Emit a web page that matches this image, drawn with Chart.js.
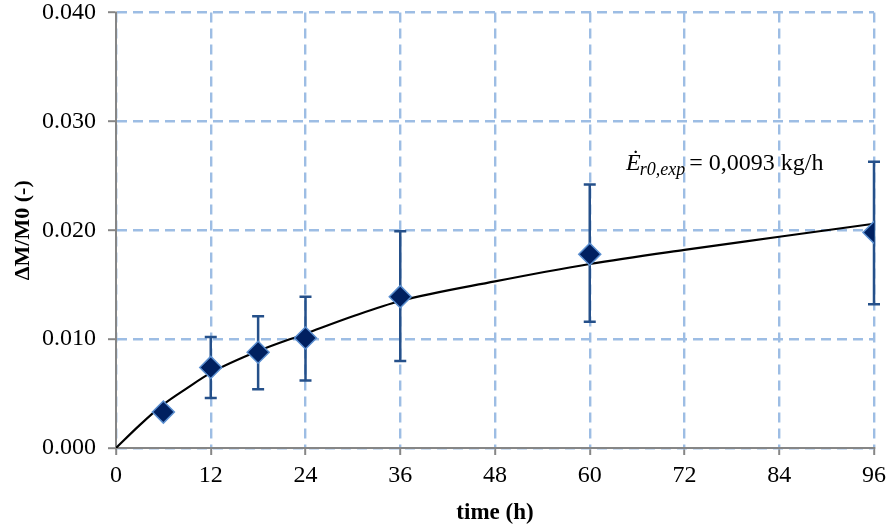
<!DOCTYPE html>
<html>
<head>
<meta charset="utf-8">
<script src="https://cdn.jsdelivr.net/npm/chart.js@4"></script>
<style>
  html, body { margin: 0; padding: 0; background: #fff; }
  #wrap { width: 893px; height: 529px; position: relative; }
</style>
</head>
<body>
<div id="wrap"><canvas id="chart"></canvas></div>
<script>
// measured points (time in h, ΔM/M0)
const hours = [6, 12, 18, 24, 36, 60, 96];
const massGain = [0.0033, 0.0074, 0.0088, 0.0101, 0.0139, 0.0178, 0.0198];
const errHigh = [null, 0.0102, 0.0121, 0.0139, 0.0199, 0.0242, 0.0263];
const errLow = [null, 0.0046, 0.0054, 0.0062, 0.0080, 0.0116, 0.0132];

// fitted curve
const fitHours = [0, 3, 6, 9, 12, 18, 24, 30, 36, 48, 60, 72, 84, 96];
const fitValues = [0, 0.0021, 0.0040, 0.0055, 0.0069, 0.0089, 0.0105, 0.0121, 0.0135, 0.0153, 0.0169, 0.0182, 0.0194, 0.0206];

const xTicks = [0, 12, 24, 36, 48, 60, 72, 84, 96];
const yTicks = [0, 0.01, 0.02, 0.03, 0.04];

const labelFont = 'Liberation Serif';
const gridBlue = '#9dbde4';
const axisGrey = '#868686';

const errorBars = {
    id: 'errorBars',
    beforeDatasetDraw(chart, args) {
        if (args.index !== 0) return;
        const ctx = chart.ctx;
        const xs = chart.scales.x, ys = chart.scales.y;
        ctx.save();
        ctx.strokeStyle = '#25508a';
        ctx.lineWidth = 2.5;
        hours.forEach((h, i) => {
            if (errHigh[i] == null) return;
            const px = xs.getPixelForValue(h);
            const top = ys.getPixelForValue(errHigh[i]);
            const bot = ys.getPixelForValue(errLow[i]);
            ctx.beginPath();
            ctx.moveTo(px, top); ctx.lineTo(px, bot);
            ctx.moveTo(px - 6, top); ctx.lineTo(px + 6, top);
            ctx.moveTo(px - 6, bot); ctx.lineTo(px + 6, bot);
            ctx.stroke();
        });
        ctx.restore();
    }
};

// solid axis lines on top of the dashed grid
const solidAxes = {
    id: 'solidAxes',
    beforeDatasetsDraw(chart) {
        const ctx = chart.ctx, a = chart.chartArea;
        ctx.save();
        ctx.strokeStyle = axisGrey;
        ctx.lineWidth = 2;
        ctx.setLineDash([]);
        ctx.beginPath();
        ctx.moveTo(a.left, a.top - 1);
        ctx.lineTo(a.left, a.bottom);
        ctx.lineTo(a.right + 1, a.bottom);
        ctx.stroke();
        ctx.restore();
    }
};

const rateLabel = {
    id: 'rateLabel',
    afterDraw(chart) {
        const ctx = chart.ctx;
        const eqX = chart.scales.x.getPixelForValue(72.6);
        const y = chart.scales.y.getPixelForValue(0.0255);
        ctx.save();
        ctx.fillStyle = '#000';
        ctx.textBaseline = 'alphabetic';
        ctx.textAlign = 'left';
        ctx.font = '24px ' + labelFont;
        ctx.fillText('= 0,0093 kg/h', eqX, y);
        ctx.font = 'italic 18px ' + labelFont;
        const subW = ctx.measureText('r0,exp').width;
        const subX = eqX - 4 - subW;
        ctx.fillText('r0,exp', subX, y + 5);
        ctx.font = 'italic 24px ' + labelFont;
        const eW = ctx.measureText('Ė').width;
        ctx.fillText('Ė', subX - eW + 1, y);
        ctx.restore();
    }
};

new Chart(document.getElementById('chart'), {
    type: 'scatter',
    data: {
        datasets: [
            {
                label: 'measured',
                data: hours.map((h, i) => ({ x: h, y: massGain[i] })),
                pointStyle: 'rectRot',
                pointRadius: 11,
                pointHoverRadius: 11,
                backgroundColor: '#002060',
                borderColor: '#5b8fd0',
                borderWidth: 1.5
            },
            {
                label: 'fit',
                data: fitHours.map((h, i) => ({ x: h, y: fitValues[i] })),
                showLine: true,
                cubicInterpolationMode: 'monotone',
                pointRadius: 0,
                borderColor: '#000',
                borderWidth: 2.2
            }
        ]
    },
    options: {
        responsive: true,
        maintainAspectRatio: false,
        animation: false,
        layout: { padding: { top: 12, right: 19, left: 0, bottom: 0 } },
        plugins: { legend: { display: false }, tooltip: { enabled: false } },
        scales: {
            x: {
                type: 'linear',
                min: 0, max: 96,
                afterBuildTicks: axis => { axis.ticks = xTicks.map(v => ({ value: v })); },
                afterFit: axis => { axis.height = 81; },
                grid: {
                    color: gridBlue, lineWidth: 2.4,
                    tickColor: axisGrey, tickLength: 7, tickWidth: 2
                },
                border: { color: axisGrey, width: 2, dash: [10, 6] },
                ticks: { color: '#000', font: { family: labelFont, size: 24 }, padding: 6, maxRotation: 0 },
                title: {
                    display: true, text: 'time (h)', color: '#000',
                    font: { family: labelFont, size: 23, weight: 'bold' },
                    padding: { top: 0, bottom: 2 }
                }
            },
            y: {
                type: 'linear',
                min: 0, max: 0.04,
                afterBuildTicks: axis => { axis.ticks = yTicks.map(v => ({ value: v })); },
                afterFit: axis => { axis.width = 116; axis.paddingTop = 0; axis.paddingBottom = 0; },
                grid: {
                    color: gridBlue, lineWidth: 2.4,
                    tickColor: axisGrey, tickLength: 8, tickWidth: 2
                },
                border: { color: axisGrey, width: 2, dash: [10, 6] },
                ticks: {
                    color: '#000', font: { family: labelFont, size: 24 }, padding: 12,
                    callback: v => v.toFixed(3)
                },
                title: {
                    display: true, text: 'ΔM/M0 (-)', color: '#000',
                    font: { family: labelFont, size: 22, weight: 'bold' },
                    padding: { top: 10, bottom: 0 }
                }
            }
        }
    },
    plugins: [solidAxes, errorBars, rateLabel]
});
</script>
</body>
</html>
